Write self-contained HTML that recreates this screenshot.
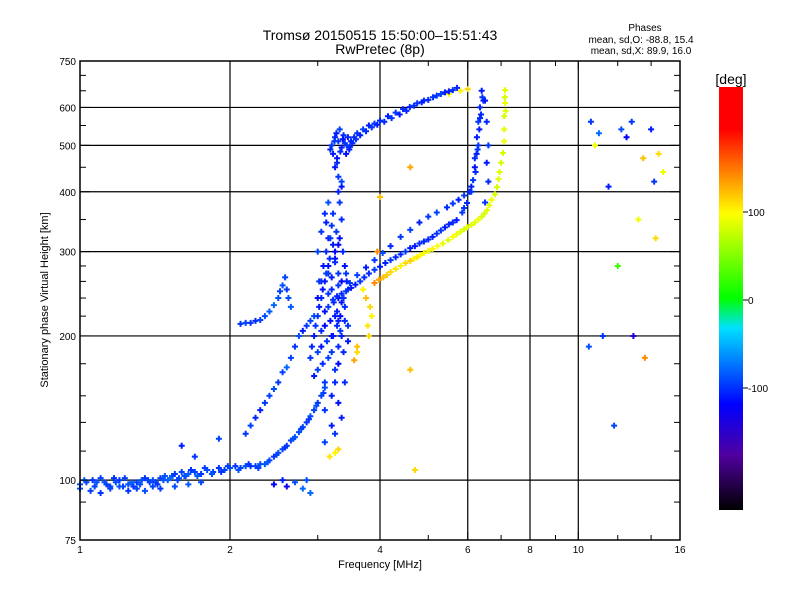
<!DOCTYPE html>
<html><head><meta charset="utf-8"><style>
body{margin:0;background:#fff;}
svg{display:block;font-family:"Liberation Sans",sans-serif;}
</style></head><body>
<svg id="chart" width="800" height="600" viewBox="0 0 800 600">
<defs>
<linearGradient id="cbar" x1="0" y1="1" x2="0" y2="0">
<stop offset="0" stop-color="#000000"/><stop offset="0.13" stop-color="#5000a0"/>
<stop offset="0.25" stop-color="#0000ff"/><stop offset="0.43" stop-color="#00e0ff"/>
<stop offset="0.5" stop-color="#00ff00"/><stop offset="0.7" stop-color="#ffff00"/>
<stop offset="0.8" stop-color="#ff8000"/><stop offset="0.9" stop-color="#ff0000"/>
<stop offset="1" stop-color="#ff0000"/></linearGradient>
</defs>
<text x="380" y="40" text-anchor="middle" font-size="14">Tromsø 20150515 15:50:00–15:51:43</text>
<text x="380" y="54" text-anchor="middle" font-size="14">RwPretec (8p)</text>
<text x="645" y="31" text-anchor="middle" font-size="10">Phases</text>
<text x="641" y="43" text-anchor="middle" font-size="10">mean, sd,O: -88.8, 15.4</text>
<text x="641" y="54" text-anchor="middle" font-size="10">mean, sd,X:  89.9, 16.0</text>
<g id="grid"></g>
<g id="marks"></g>
<rect x="80" y="61" width="600" height="479" fill="none" stroke="#000" stroke-width="1.5"/>
<g id="axes"></g>
<text x="380" y="568" text-anchor="middle" font-size="11">Frequency [MHz]</text>
<text transform="translate(48,300) rotate(-90)" text-anchor="middle" font-size="11">Stationary phase Virtual Height [km]</text>
<rect x="719" y="87" width="24" height="423" fill="url(#cbar)"/>
<text x="731" y="84" text-anchor="middle" font-size="14">[deg]</text>
<g id="cbticks"></g>
</svg>
<script>
const xTicks=[1,2,4,6,8,10,16];
const xGrid=[2,4,6,8,10];
const yTicks=[75,100,200,300,400,500,600,750];
const yGrid=[100,200,300,400,500,600];
const yMinor=[90,115,132,150,175,220,240,260,280,350,450,550,650,700];
const cbTicks=[100,0,-100];
// traces: frequency (MHz), virtual height (km), phase (deg)
const lowF=[1.0,1.03,1.06,1.08,1.1,1.13,1.15,1.18,1.2,1.23,1.25,1.28,1.3,1.33,1.35,1.38,1.4,1.43,1.45,1.48,1.5,1.53,1.55,1.58,1.6,1.63,1.65,1.7,1.75,1.8,1.85,1.9,1.95,2.0,2.05,2.1,2.15,2.2,2.25,2.3,2.35,2.4,2.45,2.5,2.55,2.6,2.65,2.7,2.75,2.8,2.85,2.9,2.95,3.0,3.05,3.1];
const lowH=[98,99,100,99,101,98,97,99,100,101,98,97,99,100,101,99,100,98,101,102,100,102,103,101,104,102,103,104,103,105,104,106,105,106,107,106,107,107,107,108,108,110,112,114,116,118,121,123,126,129,132,136,140,145,150,156];
const lowP=[-90,-95,-100,-90,-95,-100,-95,-90,-100,-95,-90,-100,-95,-90,-100,-95,-90,-100,-95,-90,-85,-95,-100,-90,-95,-90,-85,-95,-100,-90,-95,-100,-95,-90,-100,-95,-90,-100,-95,-90,-85,-95,-100,-90,-95,-100,-95,-85,-90,-95,-100,-90,-95,-100,-95,-90];
const low2F=[1.02,1.07,1.12,1.17,1.22,1.27,1.32,1.37,1.42,1.47,1.52,1.57,1.62,1.67,1.72,1.78,1.84,1.92,1.98,2.08,2.18,2.28,2.38,2.48,2.58,2.68,2.78,2.88,2.98,3.08];
const low2H=[100,97,99,101,97,99,98,100,99,100,101,100,102,105,102,106,103,104,107,105,108,106,109,113,117,122,128,134,143,152];
const low2P=[-85,-95,-90,-100,-95,-85,-90,-95,-100,-90,-80,-95,-90,-100,-85,-95,-90,-100,-95,-90,-100,-95,-90,-95,-100,-90,-95,-100,-90,-95];
const lowScatF=[1.0,1.05,1.1,1.15,1.2,1.25,1.3,1.35,1.4,1.45,1.55,1.65,1.75,2.45,2.55,2.6,2.7,2.8,2.85,2.9,1.7,1.6,1.9];
const lowScatH=[96,95,94,96,97,95,96,95,97,96,97,98,99,98,100,97,99,96,100,94,112,118,122];
const lowScatP=[-90,-95,-100,-95,-90,-100,-95,-90,-95,-100,-90,-85,-95,-120,-110,-130,-90,-80,-90,-80,-100,-110,-95];
const midF=[2.1,2.15,2.2,2.25,2.3,2.35,2.4,2.45,2.5,2.52,2.55,2.58,2.6,2.62,2.65,2.15,2.2,2.25,2.3,2.35,2.4,2.45,2.5,2.55,2.6,2.65,2.7,2.75,2.8,2.85,2.9,2.95];
const midH=[212,213,213,215,216,220,225,232,240,248,255,265,250,240,230,125,130,135,140,145,150,155,160,168,172,180,190,200,205,210,215,220];
const midP=[-100,-95,-100,-105,-95,-90,-85,-80,-90,-95,-90,-95,-100,-90,-85,-100,-95,-105,-110,-100,-95,-90,-100,-95,-80,-95,-100,-90,-110,-100,-95,-90];
const clusterF=[2.9,2.95,3.0,3.0,3.05,3.05,3.1,3.1,3.1,3.15,3.15,3.15,3.2,3.2,3.2,3.25,3.25,3.25,3.3,3.3,3.3,3.35,3.35,3.4,3.4,3.45,3.45,3.0,3.05,3.1,3.15,3.2,3.25,3.3,3.35,3.1,3.2,3.3,3.15,3.25,3.05,3.2,3.3,3.1,3.25,3.35,3.4,3.0,3.15,3.3];
const clusterH=[180,200,170,220,190,240,160,210,260,180,230,280,150,200,250,170,220,300,190,240,270,200,260,230,280,210,250,300,330,360,320,340,290,310,350,140,130,145,380,160,260,185,175,120,125,135,160,240,270,215];
const clusterP=[-100,-110,-95,-100,-115,-105,-100,-120,-110,-95,-100,-115,-110,-125,-105,-100,-110,-120,-105,-115,-100,-110,-120,-105,-115,-100,-110,-95,-100,-105,-110,-100,-115,-120,-105,-100,-110,-115,-90,-105,-110,-100,-120,-95,-100,-110,-105,-115,-100,-110];
const cluster2F=[2.92,2.97,3.02,3.07,3.12,3.17,3.22,3.27,3.32,3.37,3.42,2.95,3.0,3.05,3.1,3.15,3.2,3.25,3.3,3.35,3.4,3.45,3.02,3.08,3.12,3.18,3.22,3.28,3.33,3.38,3.43,3.07,3.13,3.18,3.23,3.28,3.33,3.38,3.12,3.22];
const cluster2H=[190,210,230,250,270,290,310,330,320,300,270,165,185,205,225,245,265,285,255,235,215,195,260,280,300,320,200,210,220,240,260,175,195,215,235,225,205,185,345,360];
const cluster2P=[-105,-100,-110,-115,-100,-105,-110,-100,-115,-105,-100,-110,-95,-105,-115,-100,-110,-105,-100,-115,-105,-110,-100,-115,-105,-100,-110,-105,-115,-100,-110,-105,-100,-115,-105,-110,-100,-105,-110,-100];
const oLowF=[3.22,3.35,3.5,3.65,3.8,4.0,4.2,4.4,4.6,4.8,5.0,5.1,5.3,5.5,5.7,5.85,5.98,6.05,6.15,6.2,6.26,6.3,6.35,6.4,6.2,6.3,6.45];
const oLowH=[238,245,252,260,270,279,288,296,305,312,318,322,332,342,349,362,379,400,423,470,520,560,600,650,450,500,620];
const oLowP=[-100,-105,-110,-100,-105,-110,-100,-105,-110,-100,-105,-110,-100,-105,-110,-100,-105,-110,-100,-105,-110,-100,-105,-110,-115,-100,-105];
const oLow2F=[3.28,3.42,3.57,3.72,3.9,4.1,4.3,4.5,4.7,4.9,5.2,5.4,5.6,5.9,6.1,6.22,6.28,6.33,6.38,6.42,6.25,6.35];
const oLow2H=[242,248,256,265,275,284,292,300,308,315,327,337,345,370,410,440,490,540,580,630,480,570];
const oLow2P=[-105,-100,-110,-105,-100,-110,-105,-100,-110,-105,-100,-110,-105,-100,-110,-105,-100,-110,-105,-100,-110,-105];
const oUpF=[3.48,3.6,3.75,3.9,4.05,4.2,4.4,4.6,4.8,5.0,5.2,5.45,5.6,5.75,5.9,6.1,6.5,6.55,6.6,6.55,6.6,6.5];
const oUpH=[258,268,278,288,298,308,322,333,345,355,362,371,378,385,393,400,620,560,500,460,420,380];
const oUpP=[-100,-95,-110,-100,-90,-105,-100,-95,-110,-100,-95,-105,-100,-110,-95,-100,-110,-105,-100,-110,-105,-100];
const xModeF=[3.9,4.06,4.2,4.4,4.6,4.75,4.9,5.1,5.35,5.6,5.8,5.98,6.2,6.4,6.56,6.7,6.87,6.95,7.06,7.1,7.13,7.13,7.1,3.8,3.85,3.75,3.55,3.6,3.17,3.25,3.3,5.5,5.8,6.0];
const xModeH=[258,265,272,280,287,292,298,304,312,322,330,337,345,355,366,385,409,440,482,540,613,652,575,200,220,240,178,185,112,114,116,640,650,655];
const xModeP=[140,120,110,100,115,105,95,100,90,95,85,90,85,80,85,90,80,85,80,85,90,85,80,110,100,120,130,110,105,100,110,95,100,110];
const xMode2F=[3.98,4.13,4.3,4.5,4.68,4.82,5.0,5.22,5.48,5.7,5.9,6.1,6.3,6.48,6.63,6.8,6.92,7.0,7.1,7.15,7.12,3.78,3.82,3.7,3.6];
const xMode2H=[262,268,276,284,290,295,301,308,317,326,334,341,350,360,375,395,425,460,510,590,630,210,230,250,190];
const xMode2P=[130,115,105,110,100,95,90,95,85,90,80,85,90,80,85,80,85,80,90,85,80,105,110,100,120];
const cuspF=[3.2,3.22,3.25,3.28,3.3,3.32,3.35,3.38,3.4,3.42,3.45,3.48,3.5,3.55,3.6,3.7,3.8,3.9,4.0,4.15,4.3,4.45,4.59,4.75,4.9,5.11,5.3,5.5,5.71,3.25,3.3,3.35,3.28,3.3,3.32,3.35];
const cuspH=[500,480,520,470,510,540,495,525,505,480,520,496,510,520,530,540,550,555,563,575,585,595,601,612,620,630,640,648,659,450,430,410,460,400,380,420];
const cuspP=[-100,-110,-105,-115,-100,-95,-110,-105,-100,-115,-105,-100,-110,-105,-100,-95,-110,-100,-105,-110,-100,-105,-110,-100,-105,-100,-95,-110,-105,-110,-100,-115,-105,-110,-100,-95];
const cusp2F=[3.18,3.24,3.27,3.33,3.37,3.43,3.47,3.52,3.58,3.65,3.75,3.85,3.95,4.08,4.22,4.38,4.52,4.68,4.85,5.0,5.2,5.4,5.6];
const cusp2H=[490,510,530,485,515,500,490,505,515,525,535,545,552,560,570,580,590,605,615,622,635,645,652];
const cusp2P=[-105,-100,-110,-105,-115,-100,-110,-105,-100,-110,-105,-100,-110,-105,-100,-110,-105,-100,-110,-105,-100,-110,-105];
const scatF=[10.6,10.8,11.0,11.5,12.2,12.5,12.8,13.2,13.5,14.0,14.2,14.5,14.8,12.0,11.2,10.5,11.8,12.9,13.6,14.3,4.6,4.7,4.0,3.95,4.6];
const scatH=[560,500,530,410,540,520,560,350,470,540,420,480,440,280,200,190,130,200,180,320,170,105,390,300,450];
const scatP=[-100,90,-80,-110,-90,-120,-100,90,120,-110,-100,110,90,20,-100,-90,-95,-140,140,110,120,110,120,140,130];
const series=[[lowF,lowH,lowP],[low2F,low2H,low2P],[lowScatF,lowScatH,lowScatP],[midF,midH,midP],[clusterF,clusterH,clusterP],[cluster2F,cluster2H,cluster2P],[oLowF,oLowH,oLowP],[oLow2F,oLow2H,oLow2P],[oUpF,oUpH,oUpP],[xModeF,xModeH,xModeP],[xMode2F,xMode2H,xMode2P],[cuspF,cuspH,cuspP],[cusp2F,cusp2H,cusp2P],[scatF,scatH,scatP]];

const NS='http://www.w3.org/2000/svg';
const X=f=>80+150*Math.log2(f);
const Y=h=>540-479*Math.log10(h/75);
const CBY=v=>300-0.88*v;
const stops=[[0,[0,0,0]],[0.13,[80,0,160]],[0.25,[0,0,255]],[0.43,[0,224,255]],[0.5,[0,255,0]],[0.7,[255,255,0]],[0.8,[255,128,0]],[0.9,[255,0,0]],[1,[255,0,0]]];
function col(p){let t=Math.max(0,Math.min(1,(p+240)/480));for(let i=1;i<stops.length;i++){if(t<=stops[i][0]){const a=stops[i-1],b=stops[i];const u=(t-a[0])/(b[0]-a[0]||1);const c=a[1].map((v,k)=>Math.round(v+(b[1][k]-v)*u));return `rgb(${c})`;}}return 'red';}
function el(tag,attrs,parent){const e=document.createElementNS(NS,tag);for(const k in attrs)e.setAttribute(k,attrs[k]);parent.appendChild(e);return e;}
const grid=document.getElementById('grid'),axes=document.getElementById('axes'),marks=document.getElementById('marks'),cbt=document.getElementById('cbticks');
xGrid.forEach(f=>{const l=el('line',{x1:X(f),x2:X(f),y1:61,y2:540,stroke:'#000','stroke-width':1.2},grid);

});
yGrid.forEach(h=>{const l=el('line',{x1:80,x2:680,y1:Y(h),y2:Y(h),stroke:'#000','stroke-width':1.2},grid);

});
xTicks.forEach(f=>{const t=el('text',{x:X(f),y:553,'text-anchor':'middle','font-size':10},axes);t.textContent=f;


[61,540].forEach(y0=>{const l=el('line',{x1:X(f),x2:X(f),y1:y0,y2:y0===61?69:532,stroke:'#000'},axes);

});});
[3,5,7,9,12,14].forEach(f=>{[61,540].forEach(y0=>{const l=el('line',{x1:X(f),x2:X(f),y1:y0,y2:y0===61?66:535,stroke:'#000'},axes);

});});
yTicks.forEach(h=>{const t=el('text',{x:76,y:Y(h)+4,'text-anchor':'end','font-size':10},axes);t.textContent=h;


[[80,90],[680,670]].forEach(([a,b])=>{const l=el('line',{x1:a,x2:b,y1:Y(h),y2:Y(h),stroke:'#000'},axes);

});});
yMinor.forEach(h=>{[[80,86],[680,674]].forEach(([a,b])=>{const l=el('line',{x1:a,x2:b,y1:Y(h),y2:Y(h),stroke:'#000'},axes);

});});
cbTicks.forEach(v=>{const l=el('line',{x1:743,x2:748,y1:CBY(v),y2:CBY(v),stroke:'#000'},cbt);


const t=el('text',{x:748,y:CBY(v)+4,'font-size':10},cbt);t.textContent=v;

});
series.forEach(([F,H,P])=>{F.forEach((f,i)=>{const x=X(f),y=Y(H[i]),c=col(P[i]);
const g=el('path',{d:`M${x-3},${y}h6M${x},${y-3}v6`,stroke:c,'stroke-width':2,fill:'none'},marks);

});});
</script>
</body></html>
